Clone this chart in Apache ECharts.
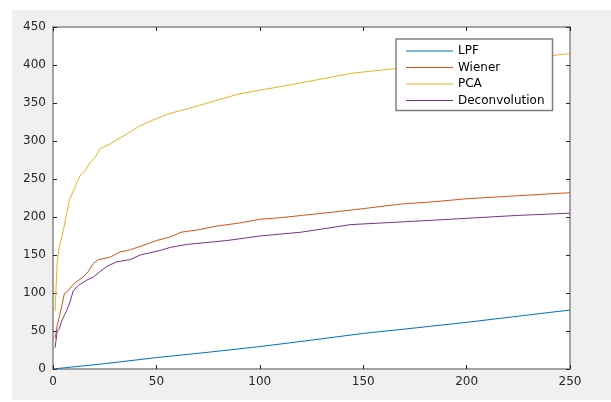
<!DOCTYPE html>
<html>
<head>
<meta charset="utf-8">
<script src="https://cdn.jsdelivr.net/npm/echarts@6/dist/echarts.min.js"></script>
<style>html,body{margin:0;padding:0;background:#fff;}#c{width:611px;height:402px;}</style>
</head>
<body>
<div id="c"></div>
<script>
var xTicks = [0, 50, 100, 150, 200, 250];
var yTicks = [0, 50, 100, 150, 200, 250, 300, 350, 400, 450];

var lpfX = [1, 25, 50, 75, 100, 125, 150, 175, 200, 225, 250];
var lpfY = [0.3, 7, 15, 22, 29.5, 38, 46.8, 54, 61.4, 69.5, 77.6];

var wienerX = [1, 2, 3, 4, 5.5, 7, 10, 14.5, 17, 19.5, 22, 27.5, 32.5, 37.5, 44, 50, 57, 62, 70, 79, 90, 100, 110, 120, 134, 150, 168, 184, 200, 225, 250];
var wienerY = [40, 57, 68, 80, 99, 102, 112, 121, 128, 139, 144, 147, 154, 157, 163, 169, 174, 180, 183, 188, 192, 197, 199, 202, 206, 211, 217, 220, 224, 228, 232];

var pcaX = [1, 2, 3, 5, 6, 8, 10.6, 13, 15.5, 18, 20.3, 22.7, 27.6, 32.4, 35.6, 42, 47, 55, 71, 90, 119, 144, 168, 200, 225, 243.6, 250];
var pcaY = [76, 139, 160, 182, 197, 223, 239, 254, 261, 272, 278, 290, 296, 304, 309, 320, 326, 335, 347, 362, 376, 389, 396, 404, 409, 413, 415];

var deconvX = [1, 2, 3, 4.3, 6.6, 8.2, 9.8, 12.3, 16.4, 19.5, 22.7, 26, 30.8, 37.4, 42.2, 47, 51.8, 56.7, 65, 84, 100, 120, 144, 165, 192, 224, 250];
var deconvY = [28, 49, 53, 64, 77, 88, 103, 110, 117, 121, 128, 135, 141, 144, 150, 153, 156, 160, 164, 169, 175, 180, 190, 193, 197, 202, 205];

function pairs(xs, ys) { return xs.map(function (x, i) { return [x, ys[i]]; }); }

var axisColor = '#868686';
var tickColor = '#262626';
var font = 'DejaVu Sans, Liberation Sans, Arial, sans-serif';

var chart = echarts.init(document.getElementById('c'), null, { renderer: 'canvas' });
function mkX(pos, show) {
  return {
    type: 'value', position: pos, min: xTicks[0], max: xTicks[xTicks.length - 1], interval: 50,
    axisLine: { show: true, onZero: false, lineStyle: { color: axisColor, width: 1.5 } },
    axisTick: { show: true, inside: true, length: 4, lineStyle: { color: tickColor, width: 1 } },
    axisLabel: { show: show, margin: 7, color: tickColor, fontSize: 12, fontFamily: font },
    splitLine: { show: false }
  };
}
function mkY(pos, show) {
  return {
    type: 'value', position: pos, min: yTicks[0], max: yTicks[yTicks.length - 1], interval: 50,
    axisLine: { show: true, onZero: false, lineStyle: { color: axisColor, width: 1.5 } },
    axisTick: { show: true, inside: true, length: 4, lineStyle: { color: tickColor, width: 1 } },
    axisLabel: { show: show, margin: 7, color: tickColor, fontSize: 12, fontFamily: font },
    splitLine: { show: false }
  };
}
function mkS(name, xs, ys, color) {
  return {
    name: name, type: 'line', data: pairs(xs, ys), showSymbol: false, symbol: 'none',
    lineStyle: { color: color, width: 1 }, itemStyle: { color: color },
    animation: false, silent: true
  };
}

chart.setOption({
  animation: false,
  backgroundColor: '#ffffff',
  graphic: [{ type: 'rect', z: -10, silent: true, shape: { x: 12, y: 10, width: 599, height: 390 }, style: { fill: '#f0f0f0' } }],
  grid: { left: 53, right: 41, top: 27, bottom: 33, show: true, backgroundColor: '#ffffff', borderWidth: 0 },
  xAxis: [mkX('bottom', true), mkX('top', false)],
  yAxis: [mkY('left', true), mkY('right', false)],
  legend: {
    orient: 'vertical', left: 396, top: 39,
    padding: [5, 8, 3, 10], itemGap: 2.5,
    itemWidth: 47, itemHeight: 1, icon: 'rect',
    backgroundColor: '#ffffff', borderColor: '#808080', borderWidth: 1.5,
    textStyle: { color: '#000', fontSize: 12, fontFamily: font, lineHeight: 14 },
    data: ['LPF', 'Wiener', 'PCA', 'Deconvolution']
  },
  series: [
    mkS('LPF', lpfX, lpfY, '#0072BD'),
    mkS('Wiener', wienerX, wienerY, '#D95319'),
    mkS('PCA', pcaX, pcaY, '#EDB120'),
    mkS('Deconvolution', deconvX, deconvY, '#7E2F8E')
  ]
});
</script>
</body>
</html>
